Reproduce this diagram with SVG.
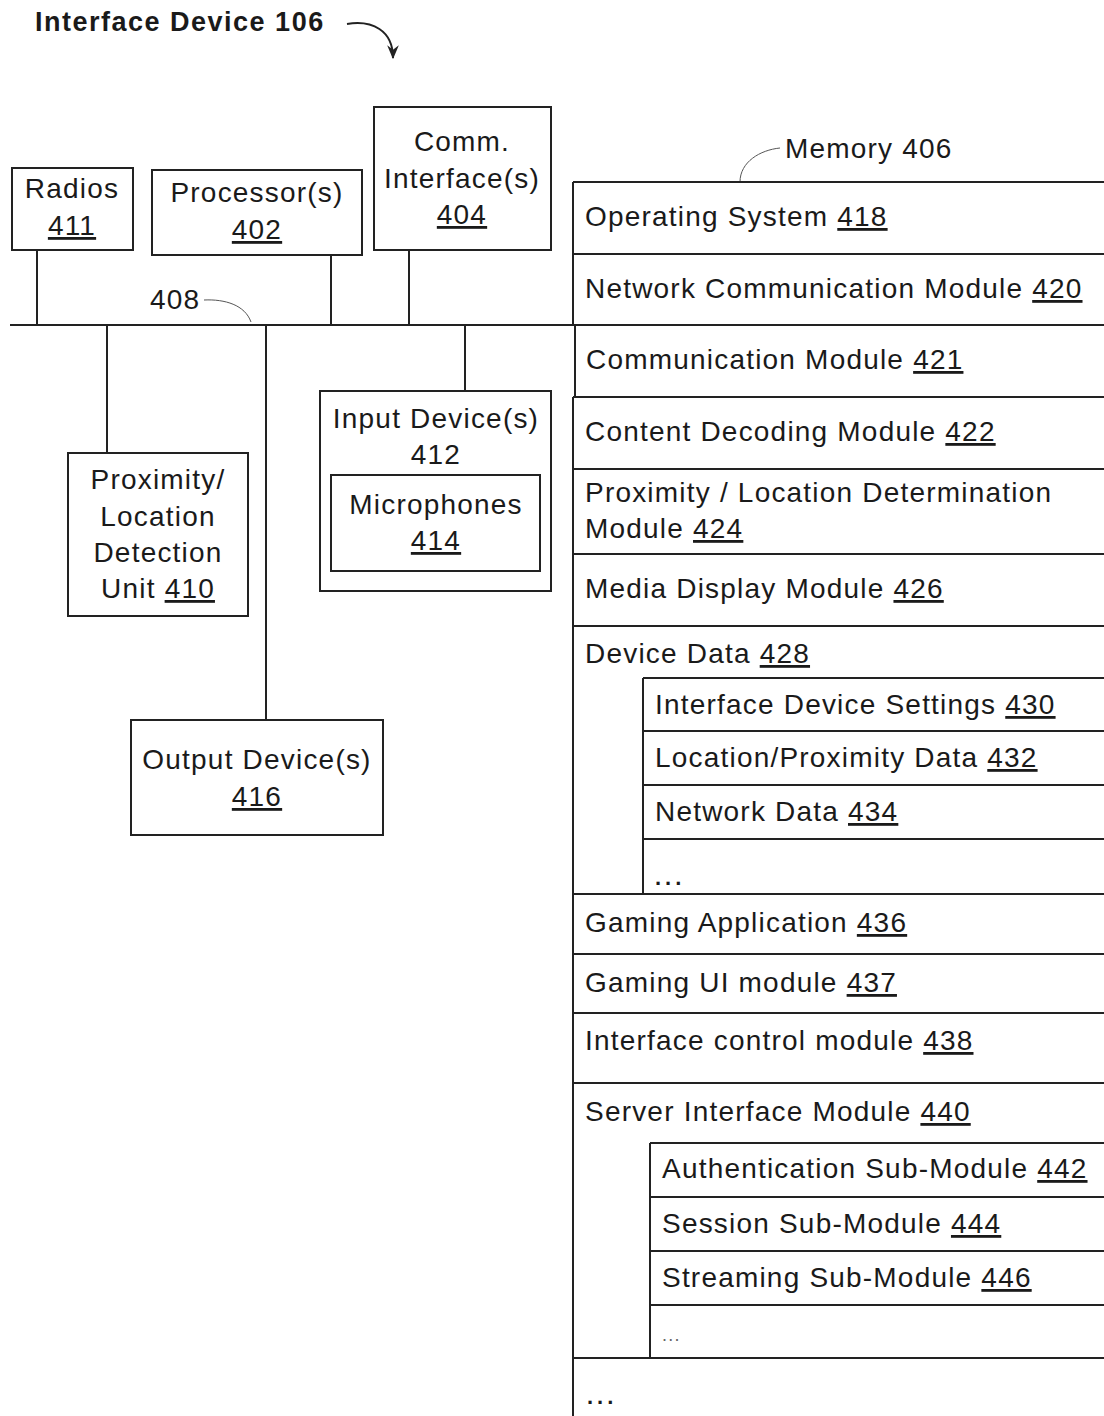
<svg xmlns="http://www.w3.org/2000/svg" width="1104" height="1416" viewBox="0 0 1104 1416">
<style>
text{font-family:"Liberation Sans",Arial,sans-serif;font-size:28px;fill:#1a1a1a;letter-spacing:1.2px}
.c{text-anchor:middle}
.u{text-decoration:underline}
.t{font-weight:bold;font-size:27px;letter-spacing:1.5px}
.box{fill:none;stroke:#222;stroke-width:2}
.ln{fill:none;stroke:#222;stroke-width:2}
.lead{fill:none;stroke:#555;stroke-width:1}
.dots{font-size:22px;letter-spacing:4px;font-weight:bold}
</style>
<defs>
<marker id="ah" viewBox="0 0 12 10" refX="11" refY="5" markerWidth="14" markerHeight="12" orient="auto" markerUnits="userSpaceOnUse">
<path d="M0,0 L4,5 L0,10 L12,5 Z" fill="#222"/>
</marker>
</defs>
<rect width="1104" height="1416" fill="#fff"/>
<g id="title">
<text class="t" x="35" y="31">Interface Device 106</text>
<path class="ln" d="M347,24 C372,20 393,30 393,58" marker-end="url(#ah)" stroke-width="1.8"/>
</g>
<g id="connectors">
<line class="ln" x1="10" y1="325" x2="1104" y2="325"/>
<line class="ln" x1="37" y1="250" x2="37" y2="325"/>
<line class="ln" x1="331" y1="255" x2="331" y2="325"/>
<line class="ln" x1="409" y1="250" x2="409" y2="325"/>
<line class="ln" x1="107" y1="325" x2="107" y2="453"/>
<line class="ln" x1="266" y1="325" x2="266" y2="720"/>
<line class="ln" x1="465" y1="325" x2="465" y2="391"/>
<text x="150" y="309">408</text>
<path class="lead" d="M204,300 C225,299 245,305 251,322"/>
</g>
<g id="radios">
<rect class="box" x="12" y="168" width="121" height="82"/>
<text class="c" x="72" y="198">Radios</text>
<text class="c u" x="72" y="235">411</text>
</g>
<g id="processors">
<rect class="box" x="152" y="170" width="210" height="85"/>
<text class="c" x="257" y="202">Processor(s)</text>
<text class="c u" x="257" y="239">402</text>
</g>
<g id="comm">
<rect class="box" x="374" y="107" width="177" height="143"/>
<text class="c" x="462" y="151">Comm.</text>
<text class="c" x="462" y="188">Interface(s)</text>
<text class="c u" x="462" y="224">404</text>
</g>
<g id="proximity">
<rect class="box" x="68" y="453" width="180" height="163"/>
<text class="c" x="158" y="489">Proximity/</text>
<text class="c" x="158" y="526">Location</text>
<text class="c" x="158" y="562">Detection</text>
<text class="c" x="158" y="598">Unit <tspan class="u">410</tspan></text>
</g>
<g id="input">
<rect class="box" x="320" y="391" width="231" height="200"/>
<text class="c" x="436" y="428">Input Device(s)</text>
<text class="c" x="436" y="464">412</text>
</g>
<g id="microphones">
<rect class="box" x="331" y="475" width="209" height="96"/>
<text class="c" x="436" y="514">Microphones</text>
<text class="c u" x="436" y="550">414</text>
</g>
<g id="output">
<rect class="box" x="131" y="720" width="252" height="115"/>
<text class="c" x="257" y="769">Output Device(s)</text>
<text class="c u" x="257" y="806">416</text>
</g>
<g id="memory">
<text x="785" y="158">Memory 406</text>
<path class="lead" d="M780,148 C760,150 740,162 740,182"/>
<path class="ln" d="M573,182 H1104 M573,182 V325 M575,325 V397 M573,397 V1416"/>
<line class="ln" x1="573" y1="254" x2="1104" y2="254"/>
<line class="ln" x1="573" y1="397" x2="1104" y2="397"/>
<line class="ln" x1="573" y1="469" x2="1104" y2="469"/>
<line class="ln" x1="573" y1="554" x2="1104" y2="554"/>
<line class="ln" x1="573" y1="626" x2="1104" y2="626"/>
<line class="ln" x1="573" y1="894" x2="1104" y2="894"/>
<line class="ln" x1="573" y1="954" x2="1104" y2="954"/>
<line class="ln" x1="573" y1="1013" x2="1104" y2="1013"/>
<line class="ln" x1="573" y1="1083" x2="1104" y2="1083"/>
<line class="ln" x1="573" y1="1358" x2="1104" y2="1358"/>
</g>
<g id="os"><text x="585" y="226">Operating System <tspan class="u">418</tspan></text></g>
<g id="netcomm"><text x="585" y="298">Network Communication Module <tspan class="u">420</tspan></text></g>
<g id="commmod"><text x="586" y="369">Communication Module <tspan class="u">421</tspan></text></g>
<g id="decoding"><text x="585" y="441">Content Decoding Module <tspan class="u">422</tspan></text></g>
<g id="proxmod"><text x="585" y="502">Proximity / Location Determination</text><text x="585" y="538">Module <tspan class="u">424</tspan></text></g>
<g id="media"><text x="585" y="598">Media Display Module <tspan class="u">426</tspan></text></g>
<g id="devicedata">
<text x="585" y="663">Device Data <tspan class="u">428</tspan></text>
<path class="ln" d="M643,678 H1104 M643,678 V894 M643,731 H1104 M643,785 H1104 M643,839 H1104"/>
<text x="655" y="714">Interface Device Settings <tspan class="u">430</tspan></text>
<text x="655" y="767">Location/Proximity Data <tspan class="u">432</tspan></text>
<text x="655" y="821">Network Data <tspan class="u">434</tspan></text>
<text class="dots" x="655" y="885">...</text>
</g>
<g id="gaming"><text x="585" y="932">Gaming Application <tspan class="u">436</tspan></text></g>
<g id="gamingui"><text x="585" y="992">Gaming UI module <tspan class="u">437</tspan></text></g>
<g id="ifctrl"><text x="585" y="1050">Interface control module <tspan class="u">438</tspan></text></g>
<g id="server">
<text x="585" y="1121">Server Interface Module <tspan class="u">440</tspan></text>
<path class="ln" d="M650,1143 H1104 M650,1143 V1358 M650,1197 H1104 M650,1251 H1104 M650,1305 H1104"/>
<text x="662" y="1178">Authentication Sub-Module <tspan class="u">442</tspan></text>
<text x="662" y="1233">Session Sub-Module <tspan class="u">444</tspan></text>
<text x="662" y="1287">Streaming Sub-Module <tspan class="u">446</tspan></text>
<text x="662" y="1341" style="font-size:18px;fill:#666">...</text>
</g>
<g id="more"><text class="dots" x="587" y="1404">...</text></g>
</svg>
